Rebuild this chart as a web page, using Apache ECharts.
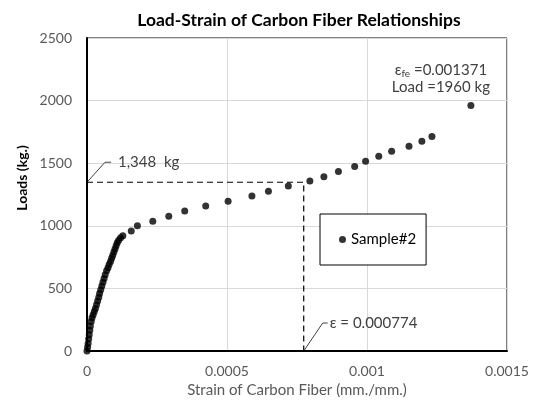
<!DOCTYPE html>
<html>
<head>
<meta charset="utf-8">
<script src="https://cdn.jsdelivr.net/npm/echarts@6/dist/echarts.min.js"></script>
<style>
  html, body { margin: 0; padding: 0; background: #fff; }
  #chart { width: 536px; height: 403px; }
</style>
</head>
<body>
<div id="chart"></div>
<script>
// strain (mm./mm.), load (kg)
const sampleStrain = [
    0, 0.000002, 0.000004, 0.000006, 0.000008, 0.000010, 0.000012, 0.000015,
    0.000018, 0.000022, 0.000026, 0.000030, 0.000034, 0.000038, 0.000042, 0.000045,
    0.000049, 0.000053, 0.000057, 0.000061, 0.000065, 0.000070, 0.000075, 0.000079,
    0.000084, 0.000088, 0.000092, 0.000096, 0.000100, 0.000104, 0.000108, 0.000113,
    0.000120, 0.000128, 0.000158, 0.000180, 0.000235, 0.000292, 0.000349, 0.000424,
    0.000504, 0.000589, 0.000648, 0.000719, 0.000796, 0.000846, 0.000898, 0.000956,
    0.000995, 0.001042, 0.001088, 0.001150, 0.001196, 0.001232, 0.001371
]
const sampleLoad = [
    0, 30, 60, 95, 130, 165, 200, 235,
    265, 290, 315, 340, 370, 400, 430, 460,
    490, 520, 550, 580, 610, 640, 665, 690,
    715, 740, 765, 790, 815, 840, 865, 885,
    905, 920, 958, 1000, 1037, 1077, 1119, 1159,
    1196, 1238, 1275, 1318, 1357, 1391, 1434, 1474,
    1516, 1556, 1595, 1635, 1675, 1714, 1960
]

// dashed guide at the 1,348 kg point
const guideStrain = [0, 0.000774, 0.000774]
const guideLoad = [1348, 1348, 0]

const xTicks = [0, 0.0005, 0.001, 0.0015]
const yTicks = [0, 500, 1000, 1500, 2000, 2500]

const font = 'Lato, "Open Sans", sans-serif'
const grey = '#595959'

const chart = echarts.init(document.getElementById('chart'))

const option = {
    backgroundColor: '#fff',
    animation: false,
    title: {
        text: 'Load-Strain of Carbon Fiber Relationships',
        left: 294,
        textAlign: 'center',
        top: 6,
        textStyle: { fontFamily: font, fontSize: 17.5, fontWeight: 'bold', color: '#000' }
    },
    grid: {
        left: 87,
        right: 29,
        top: 38,
        bottom: 50,
        show: true,
        borderColor: '#000',
        borderWidth: 1
    },
    legend: {
        data: ['Sample#2'],
        left: 320,
        top: 214,
        orient: 'vertical',
        padding: [18, 10, 18, 19],
        borderColor: '#000',
        borderWidth: 1,
        backgroundColor: '#fff',
        icon: 'circle',
        itemWidth: 7,
        itemHeight: 7,
        itemGap: 0,
        textStyle: { fontFamily: font, fontSize: 15, color: '#000' }
    },
    xAxis: {
        type: 'value',
        min: xTicks[0],
        max: xTicks[xTicks.length - 1],
        interval: 0.0005,
        name: 'Strain of Carbon Fiber (mm./mm.)',
        nameLocation: 'middle',
        nameGap: 32,
        nameTextStyle: { fontFamily: font, fontSize: 15, color: grey },
        axisLine: { lineStyle: { color: '#000', width: 2 } },
        axisTick: { show: false },
        axisLabel: { fontFamily: font, fontSize: 14, color: grey, margin: 13 },
        splitLine: { lineStyle: { color: '#d9d9d9', width: 1 } }
    },
    yAxis: {
        type: 'value',
        min: yTicks[0],
        max: yTicks[yTicks.length - 1],
        interval: 500,
        axisLine: { show: true, lineStyle: { color: '#000', width: 2 } },
        axisTick: { show: false },
        axisLabel: { fontFamily: font, fontSize: 14, color: grey, margin: 15, formatter: v => String(v) },
        splitLine: { lineStyle: { color: '#d9d9d9', width: 1 } }
    },
    series: [
        {
            name: 'guide',
            type: 'line',
            data: guideStrain.map((s, i) => [s, guideLoad[i]]),
            symbol: 'none',
            silent: true,
            lineStyle: { color: '#000', width: 1.2, type: [6, 4] },
            z: 1
        },
        {
            name: 'Sample#2',
            type: 'scatter',
            data: sampleStrain.map((s, i) => [s, sampleLoad[i]]),
            symbol: 'circle',
            symbolSize: 7,
            itemStyle: { color: '#000' },
            z: 3
        }
    ]
}

chart.setOption(option)

// annotation labels with their leader lines, placed from data coordinates
const loadPt = chart.convertToPixel({ gridIndex: 0 }, [0, 1348])
const strainPt = chart.convertToPixel({ gridIndex: 0 }, [0.000774, 0])
const lastPt = chart.convertToPixel({ gridIndex: 0 }, [0.001371, 1960])
const textStyle = { fontFamily: font, fontSize: 15, fill: '#404040' }

chart.setOption({
    graphic: [
        {
            type: 'text',
            x: 22, y: 178,
            rotation: Math.PI / 2,
            style: { text: 'Loads (kg.)', fontFamily: font, fontSize: 14, fontWeight: 'bold', fill: '#000', align: 'center', verticalAlign: 'middle' }
        },
        {
            type: 'polyline',
            shape: { points: [loadPt, [loadPt[0] + 18, loadPt[1] - 20], [loadPt[0] + 24, loadPt[1] - 20]] },
            style: { stroke: '#404040', lineWidth: 1, fill: null }
        },
        {
            type: 'text',
            x: loadPt[0] + 31, y: loadPt[1] - 20,
            style: Object.assign({ text: '1,348  kg', verticalAlign: 'middle' }, textStyle)
        },
        {
            type: 'polyline',
            shape: { points: [strainPt, [strainPt[0] + 19, strainPt[1] - 28], [strainPt[0] + 24, strainPt[1] - 28]] },
            style: { stroke: '#404040', lineWidth: 1, fill: null }
        },
        {
            type: 'text',
            x: strainPt[0] + 26, y: strainPt[1] - 28,
            style: Object.assign({ text: 'ε = 0.000774', verticalAlign: 'middle' }, textStyle)
        },
        {
            type: 'text',
            x: lastPt[0] - 30, y: lastPt[1] - 35,
            style: {
                rich: {
                    t: { fontFamily: font, fontSize: 15, fill: '#404040' },
                    s: { fontFamily: font, fontSize: 10, fill: '#404040', verticalAlign: 'bottom', padding: [7, 0, 0, 0] }
                },
                text: '{t|ε}{s|fe}{t| =0.001371}',
                align: 'center', verticalAlign: 'middle'
            }
        },
        {
            type: 'text',
            x: lastPt[0] - 30, y: lastPt[1] - 18,
            style: Object.assign({ text: 'Load =1960 kg', align: 'center', verticalAlign: 'middle' }, textStyle)
        }
    ]
})
</script>
</body>
</html>
